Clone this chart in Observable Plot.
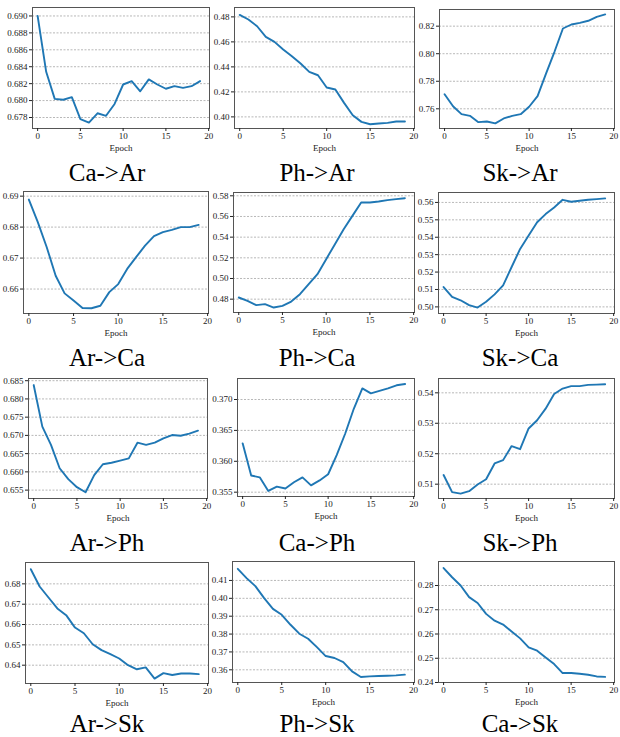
<!DOCTYPE html>
<html><head><meta charset="utf-8">
<script src="https://cdn.jsdelivr.net/npm/d3@7"></script>
<script src="https://cdn.jsdelivr.net/npm/@observablehq/plot@0.6"></script>
<style>
body{margin:0;background:#fff}
#root{position:relative;width:620px;height:737px;overflow:hidden;background:#fff}
.cell{position:absolute}
.title{position:absolute;font-family:"Liberation Serif","Times New Roman",serif;font-size:25px;color:#000;transform:translate(-50%,-50%);white-space:nowrap;line-height:1}
</style></head><body><div id="root"></div>
<script>
const epochs = d3.range(20);
const xTicks = [0, 5, 10, 15, 20];
const titles = ["Ca->Ar","Ph->Ar","Sk->Ar","Ar->Ca","Ph->Ca","Sk->Ca","Ar->Ph","Ca->Ph","Sk->Ph","Ar->Sk","Ph->Sk","Ca->Sk"];

const caAr = [0.6900,0.6834,0.6802,0.6801,0.6804,0.6778,0.6774,0.6785,0.6782,0.6796,0.6819,0.6823,0.6811,0.6825,0.6819,0.6814,0.6817,0.6815,0.6817,0.6823];
const phAr = [0.4816,0.4779,0.4725,0.4640,0.4600,0.4539,0.4485,0.4427,0.4360,0.4333,0.4235,0.4219,0.4112,0.4013,0.3960,0.3941,0.3947,0.3952,0.3963,0.3963];
const skAr = [0.7706,0.7619,0.7561,0.7549,0.7503,0.7508,0.7494,0.7530,0.7549,0.7561,0.7615,0.7692,0.7856,0.8014,0.8183,0.8212,0.8224,0.8239,0.8268,0.8285];
const arCa = [0.6889,0.6816,0.6735,0.6643,0.6586,0.6563,0.6539,0.6538,0.6546,0.6590,0.6616,0.6665,0.6703,0.6740,0.6771,0.6784,0.6791,0.6800,0.6800,0.6807];
const phCa = [0.4816,0.4784,0.4742,0.4752,0.4719,0.4735,0.4777,0.4848,0.4945,0.5042,0.5187,0.5332,0.5477,0.5606,0.5735,0.5735,0.5745,0.5758,0.5768,0.5777];
const skCa = [0.5114,0.5057,0.5038,0.5010,0.4996,0.5029,0.5072,0.5124,0.5229,0.5333,0.5410,0.5486,0.5533,0.5571,0.5615,0.5604,0.5610,0.5615,0.5619,0.5623];
const arPh = [0.6838,0.6724,0.6674,0.6610,0.6580,0.6558,0.6544,0.6591,0.6621,0.6625,0.6631,0.6637,0.6680,0.6674,0.6680,0.6692,0.6701,0.6699,0.6705,0.6713];
const caPh = [0.3629,0.3577,0.3574,0.3552,0.3559,0.3556,0.3566,0.3574,0.3561,0.3569,0.3579,0.3610,0.3645,0.3685,0.3718,0.3710,0.3714,0.3718,0.3723,0.3725];
const skPh = [0.5130,0.5074,0.5069,0.5077,0.5099,0.5116,0.5168,0.5179,0.5225,0.5215,0.5283,0.5310,0.5348,0.5396,0.5414,0.5422,0.5422,0.5426,0.5427,0.5428];
const arSk = [0.6872,0.6787,0.6733,0.6679,0.6646,0.6585,0.6557,0.6503,0.6474,0.6454,0.6433,0.6400,0.6380,0.6389,0.6334,0.6361,0.6352,0.6359,0.6359,0.6356];
const phSk = [0.4165,0.4113,0.4068,0.4001,0.3941,0.3908,0.3852,0.3802,0.3774,0.3727,0.3677,0.3666,0.3643,0.3591,0.3560,0.3563,0.3565,0.3567,0.3569,0.3573];
const caSk = [0.2872,0.2834,0.2800,0.2752,0.2728,0.2683,0.2655,0.2639,0.2610,0.2582,0.2545,0.2531,0.2503,0.2476,0.2439,0.2439,0.2436,0.2432,0.2425,0.2423];

const yTicks = [
  [0.678,0.680,0.682,0.684,0.686,0.688,0.690],
  [0.40,0.42,0.44,0.46,0.48],
  [0.76,0.78,0.80,0.82],
  [0.66,0.67,0.68,0.69],
  [0.48,0.50,0.52,0.54,0.56,0.58],
  [0.50,0.51,0.52,0.53,0.54,0.55,0.56],
  [0.655,0.660,0.665,0.670,0.675,0.680,0.685],
  [0.355,0.360,0.365,0.370],
  [0.51,0.52,0.53,0.54],
  [0.64,0.65,0.66,0.67,0.68],
  [0.36,0.37,0.38,0.39,0.40,0.41],
  [0.24,0.25,0.26,0.27,0.28]
];
const yFormats = [".3f",".2f",".2f",".2f",".2f",".2f",".3f",".3f",".2f",".2f",".2f",".2f"];
const yDomains = [
  [0.6767,0.6910],[0.3907,0.4875],[0.7457,0.8321],
  [0.6521,0.6915],[0.4671,0.5832],[0.4962,0.5657],
  [0.6527,0.6856],[0.3543,0.3734],[0.5053,0.5447],
  [0.6310,0.6905],[0.3529,0.4206],[0.2400,0.2899]
];
const series = [caAr, phAr, skAr, arCa, phCa, skCa, arPh, caPh, skPh, arSk, phSk, caSk];

// layout: frame [left, right, top, bottom] in page pixels
const frames = [
  [32,209,7,128],[234,414,7,128],[439,614,9,128],
  [23,208,191,313],[233,414,192,312],[438,614,192,313],
  [28,207,378,498],[237,414,378,496],[438,614,378,498],
  [25,208,562,683],[232,414,561,682],[438,614,561,682]
];
const titleX = [107, 317, 520];
const titleY = [172, 357, 542, 723];

const root = document.getElementById("root");
series.forEach((vals, i) => {
  const col = i % 3, row = Math.floor(i / 3);
  const cellX = col * 205;
  const [l, r, t, b] = frames[i];
  const mt = 4, mb = 24, mr = 1;
  const data = epochs.map((e, k) => ({epoch: e, value: vals[k]}));
  const chart = Plot.plot({
    width: r - cellX + mr,
    height: (b - t) + mt + mb,
    marginLeft: l - cellX,
    marginRight: mr,
    marginTop: mt,
    marginBottom: mb,
    style: {fontFamily: '"Liberation Serif","Times New Roman",serif', fontSize: "9px", background: "transparent", color: "#222", overflow: "visible"},
    x: {domain: [-0.6, 20.1], ticks: xTicks},
    y: {domain: yDomains[i]},
    marks: [
      Plot.gridY(yTicks[i], {stroke: "#999", strokeOpacity: 1, strokeWidth: 0.7, strokeDasharray: "2,1.5"}),
      Plot.line(data, {x: "epoch", y: "value", stroke: "#1f77b4", strokeWidth: 1.9}),
      Plot.frame({stroke: "#555", strokeWidth: 1}),
      Plot.axisY({ticks: yTicks[i], tickFormat: d3.format(yFormats[i]), tickSize: 3, tickPadding: 2, label: null}),
      Plot.axisX({ticks: xTicks, tickSize: 3, tickPadding: 1, label: "Epoch", labelAnchor: "center", labelArrow: "none", labelOffset: 22})
    ]
  });
  const div = document.createElement("div");
  div.className = "cell";
  div.style.left = cellX + "px";
  div.style.top = (t - mt) + "px";
  div.appendChild(chart);
  root.appendChild(div);
  const tt = document.createElement("div");
  tt.className = "title";
  tt.textContent = titles[i];
  tt.style.left = titleX[col] + "px";
  tt.style.top = titleY[row] + "px";
  root.appendChild(tt);
});
</script></body></html>
